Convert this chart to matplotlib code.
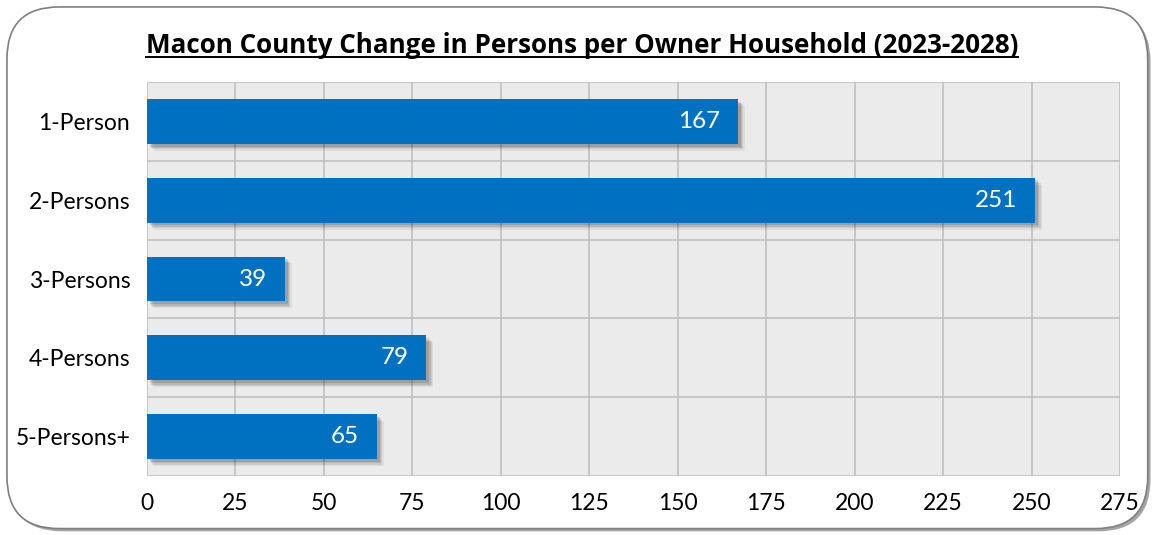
import matplotlib.pyplot as plt
import matplotlib.patheffects as pe
from matplotlib.patches import FancyBboxPatch

categories = ['1-Person', '2-Persons', '3-Persons', '4-Persons', '5-Persons+']
values = [167, 251, 39, 79, 65]
xticks = [0, 25, 50, 75, 100, 125, 150, 175, 200, 225, 250, 275]

plt.rcParams['font.family'] = ['Lato', 'DejaVu Sans']

fig = plt.figure(figsize=(11.57, 5.35), dpi=100)
fig.patch.set_facecolor('white')

# rounded outer frame with a soft shadow
frame = FancyBboxPatch((0.006, 0.012), 0.986, 0.975, transform=fig.transFigure,
                       boxstyle='round,pad=0,rounding_size=0.045',
                       facecolor='white', edgecolor='#7f7f7f', linewidth=1.2,
                       mutation_aspect=1157 / 535, zorder=-10,
                       path_effects=[pe.SimplePatchShadow(offset=(2, -2), alpha=0.5), pe.Normal()])
fig.patches.append(frame)

ax = fig.add_axes([0.127, 0.110, 0.841, 0.737])
ax.set_facecolor('#ebebeb')

# soft, blurred-looking bar shadow
shadow = [pe.SimplePatchShadow(offset=(o, -o), shadow_rgbFace='black', alpha=a)
          for o, a in [(5, 0.06), (4, 0.08), (3, 0.10), (2, 0.12)]]
y = list(range(len(categories)))
bars = ax.barh(y, values, height=0.57, color='#0070c0', zorder=3,
               path_effects=shadow + [pe.Normal()])

for yi, v in zip(y, values):
    ax.text(v - 5, yi, str(v), ha='right', va='center', color='white',
            fontsize=17.5, zorder=4)

ax.set_xlim(0, 275)
ax.set_ylim(len(categories) - 0.5, -0.5)
ax.set_xticks(xticks)
ax.set_yticks(y)
ax.set_yticklabels(categories)
ax.set_yticks([i - 0.5 for i in range(len(categories) + 1)], minor=True)
ax.grid(axis='x', which='major', color='#c0c0c0', linewidth=1.2, zorder=0)
ax.grid(axis='y', which='minor', color='#c0c0c0', linewidth=1.2, zorder=0)
ax.grid(axis='y', which='major', visible=False)
ax.tick_params(axis='both', which='both', length=0, labelsize=16.5, colors='black')
ax.tick_params(axis='y', pad=12)
ax.tick_params(axis='x', pad=12)
ax.set_axisbelow(True)
for s in ax.spines.values():
    s.set_visible(False)

title = fig.text(0.503, 0.915, 'Macon County Change in Persons per Owner Household (2023-2028)',
                 ha='center', va='center', fontsize=18.7, fontweight='bold',
                 family=['Open Sans', 'DejaVu Sans'])
# underline matched to the title width
fig.canvas.draw()
bb = title.get_window_extent().transformed(fig.transFigure.inverted())
fig.add_artist(plt.Line2D([bb.x0, bb.x1], [0.893, 0.893], color='black', linewidth=1.4,
                          transform=fig.transFigure))

fig.savefig('out.png', dpi=100, facecolor='white')
